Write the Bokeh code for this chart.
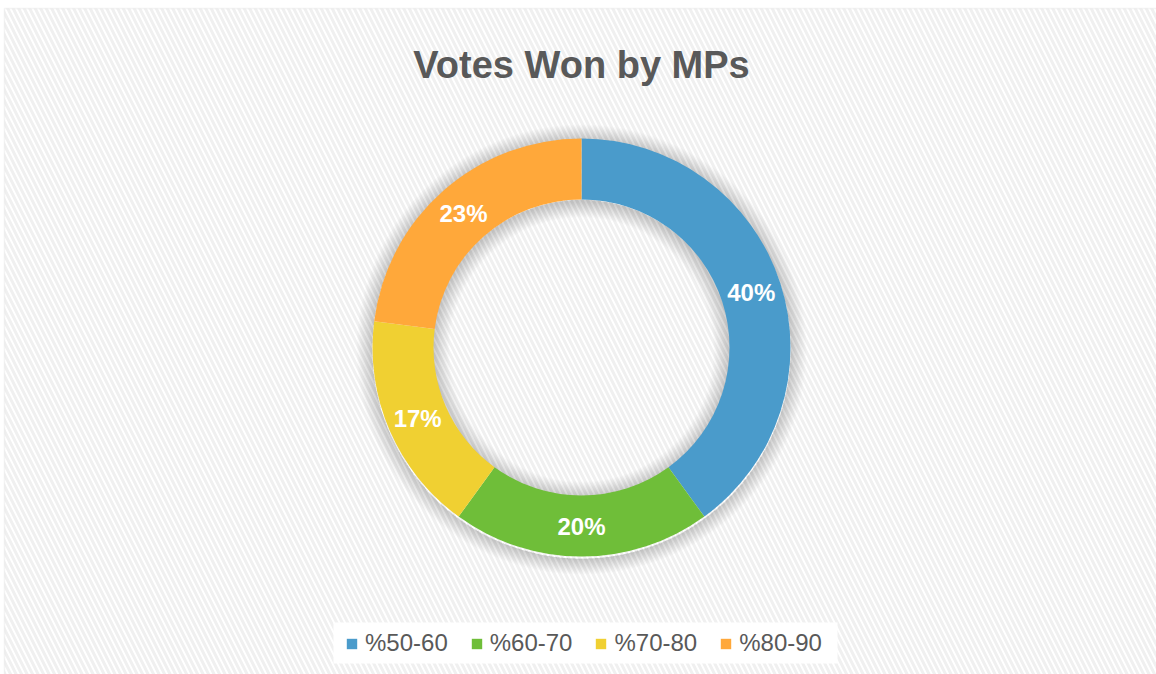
import numpy as np
from bokeh.plotting import figure
from bokeh.models import ColumnDataSource, Range1d, Legend, LegendItem, BoxAnnotation, Label
from bokeh.core.properties import value
from bokeh.embed import file_html
from bokeh.resources import INLINE

# ---- data ----
categories = ["%50-60", "%60-70", "%70-80", "%80-90"]
shares = [40, 20, 17, 23]
colors = ["#4A9BCB", "#6FBE39", "#F0D032", "#FFA83A"]
title_text = "Votes Won by MPs"

W, H = 1156, 674
FONT = "Liberation Sans"

p = figure(width=W, height=H, x_range=Range1d(0, W), y_range=Range1d(0, H),
           output_backend="svg", toolbar_location=None, min_border=0)
p.axis.visible = False
p.grid.visible = False
p.outline_line_color = None
p.background_fill_color = "white"
p.border_fill_color = "white"

# hatched chart area with thin border on top/left
p.add_layout(BoxAnnotation(left=4, right=W + 2, top=H - 8, bottom=-2,
                           fill_color="white", fill_alpha=1.0, hatch_pattern="\\",
                           hatch_color="#f0f0f0", hatch_scale=11, hatch_weight=3,
                           line_color="#d9d9d9", line_width=1.5, level="underlay"))

cx, cy = 581, H - 347
r_out, r_in = 209, 148

# soft shadow around the ring
n = 16
p.annulus(x=[cx] * n, y=[cy - 2] * n, inner_radius=[r_out] * n,
          outer_radius=[r_out + k for k in range(1, n + 1)],
          fill_color="black", fill_alpha=0.010, line_color=None)
p.annulus(x=[cx] * n, y=[cy - 2] * n, inner_radius=[r_in - k for k in range(1, n + 1)],
          outer_radius=[r_in + 2] * n,
          fill_color="black", fill_alpha=0.010, line_color=None)

frac = np.array(shares, dtype=float) / sum(shares)
cum = np.concatenate([[0.0], np.cumsum(frac)])
start = np.pi / 2 - 2 * np.pi * cum[:-1]
end = np.pi / 2 - 2 * np.pi * cum[1:]
mid = (start + end) / 2
r_lab = (r_out + r_in) / 2

src = ColumnDataSource(dict(
    cat=categories, start=start, end=end, color=colors,
    lx=cx + r_lab * np.cos(mid), ly=cy + r_lab * np.sin(mid),
    lab=[f"{round(f * 100)}%" for f in frac],
))

wedges = p.annular_wedge(x=cx, y=cy, inner_radius=r_in, outer_radius=r_out,
                         start_angle="start", end_angle="end", direction="clock",
                         fill_color="color", line_color=None, source=src)

p.text(x="lx", y="ly", text="lab", source=src, text_color="white",
       text_font=value(FONT), text_font_style="bold", text_font_size="24px",
       text_align="center", text_baseline="middle")

# title
p.add_layout(Label(x=cx, y=H - 64, text=title_text, text_align="center",
                   text_baseline="alphabetic", text_font=FONT, text_font_style="bold",
                   text_font_size="38px", text_color="#595959"))

# legend box
p.add_layout(BoxAnnotation(left=333, right=837, top=H - 622, bottom=H - 663,
                           fill_color="white", fill_alpha=1.0, line_color=None))

items = [LegendItem(label=c, renderers=[wedges], index=i) for i, c in enumerate(categories)]
legend = Legend(items=items, orientation="horizontal", location=(345, 17),
                glyph_width=13, glyph_height=13, label_standoff=7, spacing=22,
                padding=4, margin=0, label_text_font=FONT, label_text_font_size="24px",
                label_text_color="#595959", background_fill_alpha=0, border_line_color=None)
p.add_layout(legend)

open("out.html", "w").write(file_html(p, INLINE))
